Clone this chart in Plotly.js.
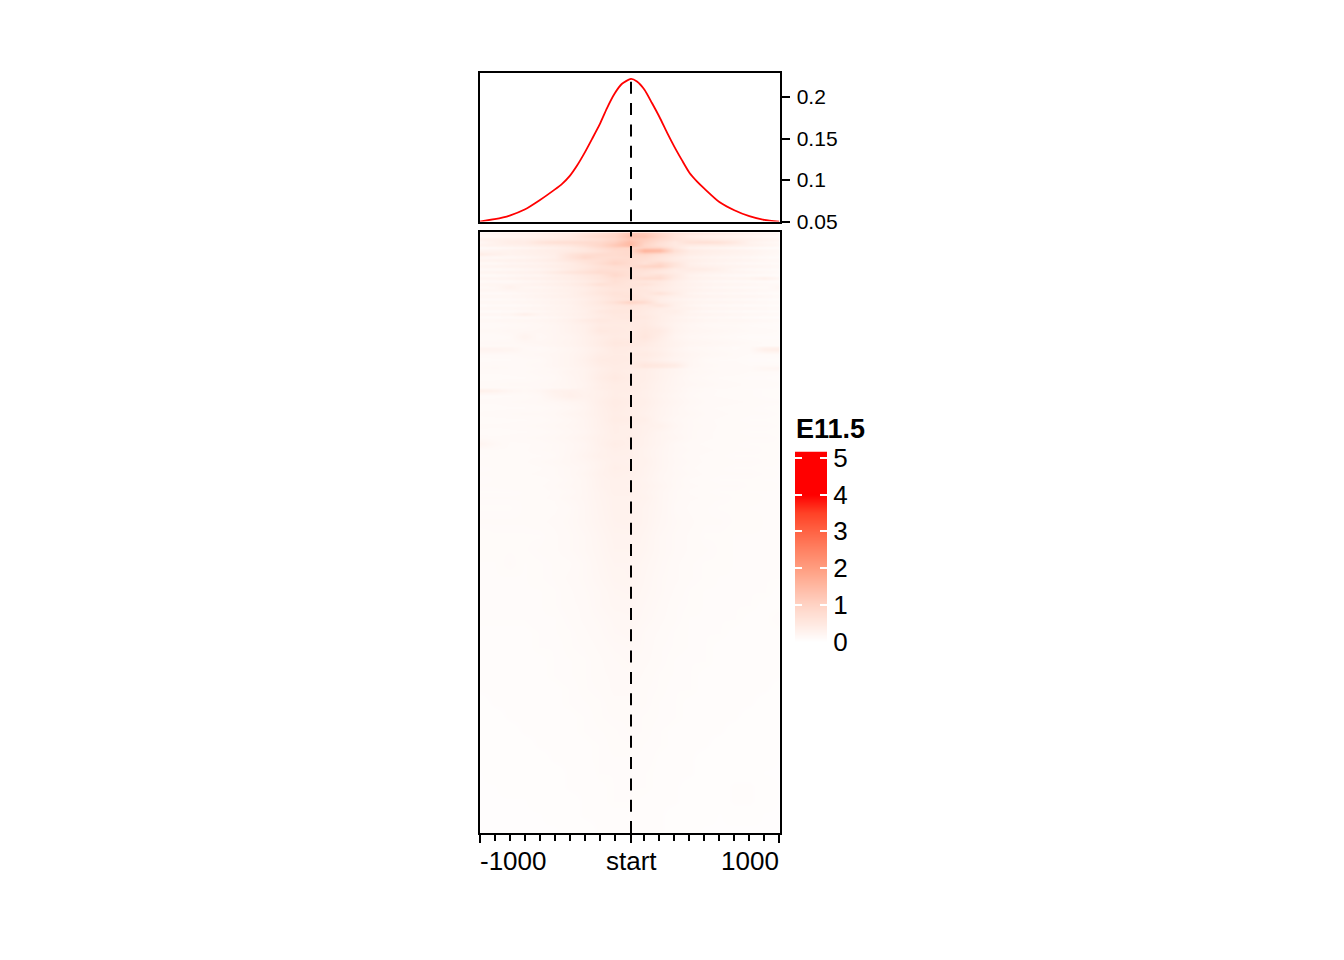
<!DOCTYPE html>
<html><head><meta charset="utf-8">
<script src="https://cdn.plot.ly/plotly-3.0.1.min.js"></script>
<style>html,body{margin:0;padding:0;background:#fff}</style></head>
<body><div id="chart" style="width:1344px;height:960px"></div>
<script>
const profileX=[-1000,-900,-800,-700,-600,-500,-450,-400,-350,-300,-250,-200,-150,-100,-50,10,50,100,150,200,250,300,350,400,450,500,600,700,800,900,1000];
const profileY=[.0501,.0529,.0573,.0645,.0757,.0885,.0955,.1048,.1176,.1328,.1496,.1668,.1868,.204,.216,.2219,.2187,.2088,.1928,.176,.1575,.14,.124,.1089,.0985,.0897,.0736,.0637,.0565,.052,.05];
const yTickVals=[.05,.1,.15,.2];
const yTickText=['0.05','0.1','0.15','0.2'];
const binX=[-1000,-900,-800,-700,-600,-500,-400,-300,-200,-100,0,100,200,300,400,500,600,700,800,900,1000];
const minorTicks=[-900,-800,-700,-600,-500,-400,-300,-200,-100,100,200,300,400,500,600,700,800,900];
const centerTick=10;
const xLabels=['-1000','start','1000'];
const rowRank=[1,3,6,9,12,15,17,21,24,27,30,33,36,39,42,45,48,51,54,57,60,63,66,69,72,75,78,81,84,87,90,96,102,108,114,115,120,126,132,137,138,144,150,157,158,162,168,174,180,186,192,198,204,210,216,222,228,234,240,246,252,258,264,270,284,298,312,326,340,354,368,382,396,410,424,438,452,466,480,494,508,522,536,550,564,578,592,604];
const heatRows=[
[.22,.24,.28,.3,.34,.4,.44,.58,.72,.9,1.25,1.2,.9,.65,.55,.48,.42,.36,.3,.24,.18],
[.14,.16,.2,.24,.3,.36,.46,.66,.82,.95,1.35,1.3,.95,.62,.42,.34,.3,.26,.2,.14,.1],
[.3,.32,.34,.36,.42,.46,.52,.6,.7,.9,1.2,1.1,.85,.65,.55,.48,.42,.38,.32,.26,.2],
[.18,.3,.4,.42,.6,.72,.75,.8,.85,1.05,1.45,1.0,.7,.5,.68,.72,.66,.5,.28,.2,.14],
[.28,.3,.32,.36,.42,.46,.55,.7,.9,1.2,1.5,.9,.65,.5,.44,.4,.4,.35,.3,.24,.18],
[.12,.14,.18,.22,.28,.34,.42,.56,.76,.95,.9,1.0,.95,.55,.3,.26,.22,.18,.14,.1,.08],
[.24,.26,.28,.32,.36,.4,.46,.52,.65,.8,.85,1.6,1.5,.7,.44,.38,.34,.3,.26,.2,.16],
[.42,.34,.28,.3,.34,.38,.6,.75,.8,.8,.85,.9,.7,.55,.4,.34,.3,.26,.24,.18,.14],
[.16,.16,.18,.22,.28,.36,.62,.85,.75,.75,.8,.75,.6,.44,.3,.26,.22,.2,.16,.12,.1],
[.26,.28,.3,.32,.36,.42,.54,.65,.7,.85,.8,.7,.6,.45,.38,.32,.28,.26,.24,.18,.16],
[.14,.14,.2,.22,.26,.32,.42,.58,.75,.95,.8,.65,.85,.6,.34,.26,.22,.18,.14,.12,.1],
[.24,.26,.28,.3,.32,.38,.44,.52,.65,.75,.75,.95,1.0,.6,.38,.32,.28,.26,.24,.2,.16],
[.14,.14,.16,.2,.24,.3,.42,.56,.7,.7,.7,.7,.6,.42,.44,.42,.32,.2,.14,.12,.1],
[.24,.26,.28,.3,.34,.46,.58,.68,.8,.8,.7,.6,.5,.42,.36,.3,.26,.24,.22,.18,.14],
[.12,.12,.16,.2,.22,.3,.38,.5,.6,.85,.7,.6,.7,.48,.28,.22,.18,.14,.12,.1,.08],
[.24,.24,.26,.3,.32,.36,.4,.48,.6,.7,.65,.8,.8,.46,.32,.28,.26,.24,.26,.34,.2],
[.12,.14,.14,.18,.22,.28,.34,.42,.52,.7,.6,.55,.5,.36,.26,.2,.16,.14,.12,.1,.08],
[.22,.22,.24,.26,.3,.34,.4,.5,.7,.65,.6,.65,.48,.36,.3,.26,.24,.22,.2,.16,.14],
[.14,.18,.3,.2,.2,.26,.32,.4,.5,.6,.6,.5,.44,.34,.26,.2,.16,.14,.12,.12,.2],
[.22,.2,.22,.24,.26,.3,.34,.4,.52,.58,.58,.55,.44,.36,.3,.26,.24,.22,.2,.16,.14],
[.12,.12,.14,.18,.22,.26,.32,.44,.55,.65,.6,.52,.65,.42,.24,.18,.16,.14,.12,.1,.08],
[.2,.2,.2,.22,.26,.3,.34,.4,.48,.6,.65,.52,.42,.34,.3,.26,.24,.22,.22,.18,.14],
[.12,.12,.14,.16,.2,.24,.28,.36,.46,.56,.58,.6,.38,.28,.22,.18,.16,.14,.12,.1,.08],
[.2,.2,.2,.22,.24,.28,.32,.4,.52,.7,1.0,.8,.42,.34,.28,.24,.24,.22,.2,.16,.14],
[.1,.12,.12,.14,.18,.24,.28,.38,.46,.54,.58,.5,.6,.34,.22,.16,.14,.12,.1,.1,.08],
[.2,.2,.2,.22,.24,.26,.3,.36,.42,.52,.54,.48,.4,.32,.3,.24,.22,.2,.2,.16,.14],
[.1,.1,.12,.14,.18,.24,.28,.34,.5,.56,.56,.46,.38,.38,.22,.16,.14,.12,.1,.1,.08],
[.2,.2,.22,.36,.24,.26,.3,.36,.44,.52,.5,.46,.38,.32,.26,.24,.22,.2,.18,.16,.14],
[.1,.1,.12,.12,.16,.2,.26,.32,.44,.5,.54,.5,.38,.28,.2,.16,.14,.12,.1,.08,.08],
[.18,.18,.2,.2,.22,.26,.32,.44,.52,.48,.48,.46,.38,.3,.26,.22,.2,.2,.18,.16,.14],
[.12,.12,.14,.16,.18,.22,.28,.34,.44,.46,.46,.48,.36,.26,.2,.16,.14,.14,.12,.1,.1],
[.16,.16,.18,.18,.2,.22,.28,.34,.5,.48,.46,.52,.46,.28,.22,.2,.18,.16,.14,.14,.12],
[.12,.12,.14,.26,.16,.22,.24,.32,.4,.46,.44,.56,.4,.24,.18,.16,.14,.12,.1,.1,.1],
[.15,.16,.16,.18,.2,.22,.26,.32,.42,.52,.5,.46,.36,.28,.22,.2,.18,.16,.14,.12,.12],
[.12,.12,.12,.14,.16,.2,.24,.3,.4,.48,.46,.42,.36,.28,.18,.16,.14,.12,.12,.1,.1],
[.26,.26,.24,.16,.14,.18,.22,.28,.36,.46,.44,.4,.34,.24,.18,.16,.14,.12,.14,.36,.4],
[.14,.14,.14,.16,.18,.2,.24,.3,.4,.44,.44,.46,.38,.28,.22,.18,.16,.14,.12,.12,.12],
[.11,.12,.12,.14,.14,.2,.24,.32,.44,.46,.44,.4,.32,.24,.2,.14,.12,.12,.1,.1,.09],
[.14,.14,.14,.14,.16,.2,.24,.3,.4,.44,.42,.56,.52,.44,.2,.16,.14,.14,.12,.12,.12],
[.14,.16,.14,.12,.14,.16,.2,.26,.34,.42,.42,.4,.32,.22,.16,.14,.12,.12,.14,.26,.3],
[.13,.13,.13,.14,.16,.18,.24,.28,.38,.44,.4,.38,.3,.24,.18,.16,.14,.14,.12,.12,.11],
[.11,.11,.12,.12,.14,.16,.22,.28,.4,.48,.42,.38,.3,.22,.16,.14,.12,.11,.1,.1,.09],
[.14,.14,.15,.15,.16,.18,.22,.26,.36,.42,.4,.36,.28,.22,.18,.16,.14,.13,.12,.12,.11],
[.12,.12,.12,.13,.14,.16,.2,.28,.38,.42,.42,.36,.28,.2,.14,.12,.12,.11,.1,.09,.09],
[.34,.3,.2,.16,.2,.3,.32,.28,.34,.4,.4,.34,.28,.22,.16,.14,.12,.11,.11,.1,.1],
[.12,.12,.12,.13,.16,.26,.34,.3,.34,.4,.38,.34,.26,.2,.15,.13,.12,.11,.11,.1,.09],
[.13,.13,.14,.15,.16,.18,.22,.26,.36,.44,.4,.36,.28,.22,.17,.14,.14,.13,.12,.11,.11],
[.11,.11,.12,.12,.13,.15,.18,.24,.34,.42,.38,.34,.26,.2,.15,.13,.12,.11,.11,.1,.09],
[.13,.14,.14,.15,.15,.17,.22,.26,.34,.4,.38,.32,.26,.2,.17,.14,.13,.12,.11,.11,.1],
[.11,.11,.12,.12,.13,.15,.18,.24,.32,.42,.4,.36,.24,.18,.15,.13,.12,.11,.1,.1,.09],
[.13,.13,.13,.14,.15,.17,.2,.24,.32,.38,.36,.32,.3,.2,.15,.14,.12,.12,.11,.11,.1],
[.12,.11,.12,.12,.13,.15,.18,.22,.3,.38,.36,.32,.24,.18,.15,.13,.12,.11,.1,.1,.09],
[.13,.13,.13,.14,.15,.17,.2,.25,.32,.36,.38,.3,.24,.2,.15,.13,.12,.12,.11,.11,.1],
[.24,.16,.12,.12,.13,.15,.18,.22,.32,.4,.36,.3,.24,.16,.13,.12,.11,.11,.1,.1,.1],
[.12,.12,.12,.12,.14,.15,.18,.23,.3,.36,.34,.28,.22,.17,.14,.13,.12,.11,.11,.1,.09],
[.1,.11,.11,.12,.12,.14,.19,.25,.32,.34,.34,.28,.22,.16,.13,.12,.11,.1,.1,.1,.09],
[.12,.12,.12,.12,.14,.16,.19,.22,.28,.34,.32,.3,.22,.17,.14,.12,.12,.11,.11,.1,.09],
[.1,.11,.11,.11,.12,.14,.17,.2,.28,.36,.34,.28,.22,.16,.13,.11,.11,.1,.1,.09,.09],
[.11,.11,.12,.12,.13,.14,.17,.22,.3,.34,.32,.28,.2,.17,.14,.12,.11,.11,.11,.1,.09],
[.1,.11,.11,.11,.11,.13,.16,.2,.28,.32,.32,.26,.2,.16,.12,.11,.1,.1,.1,.09,.09],
[.11,.11,.12,.12,.12,.14,.17,.2,.28,.32,.3,.28,.22,.16,.13,.12,.11,.11,.1,.1,.09],
[.1,.1,.1,.11,.11,.13,.15,.2,.26,.32,.32,.26,.2,.15,.12,.11,.1,.1,.09,.09,.09],
[.11,.11,.11,.11,.12,.13,.17,.2,.26,.3,.3,.28,.2,.15,.13,.12,.11,.1,.1,.09,.09],
[.1,.1,.1,.11,.11,.12,.14,.19,.25,.3,.3,.25,.2,.14,.12,.11,.1,.1,.09,.09,.09],
[.11,.11,.11,.11,.12,.13,.15,.19,.24,.29,.3,.25,.19,.15,.13,.11,.11,.1,.1,.09,.08],
[.09,.1,.1,.1,.1,.12,.14,.17,.22,.27,.27,.23,.17,.14,.12,.1,.1,.09,.09,.09,.08],
[.1,.1,.1,.1,.11,.12,.14,.17,.21,.26,.26,.22,.17,.14,.12,.11,.1,.09,.09,.09,.08],
[.09,.09,.11,.09,.1,.11,.12,.15,.2,.24,.24,.2,.16,.13,.11,.1,.1,.09,.09,.08,.08],
[.09,.09,.09,.09,.1,.11,.13,.15,.19,.23,.24,.19,.15,.13,.11,.1,.09,.09,.08,.08,.08],
[.08,.08,.09,.09,.09,.1,.12,.14,.17,.21,.22,.18,.15,.12,.1,.09,.09,.08,.08,.08,.07],
[.08,.08,.08,.08,.09,.1,.12,.13,.17,.2,.2,.17,.14,.11,.1,.09,.08,.08,.08,.07,.07],
[.08,.08,.08,.08,.09,.09,.11,.13,.15,.18,.19,.16,.13,.11,.09,.09,.08,.08,.07,.07,.09],
[.07,.07,.07,.07,.08,.09,.1,.12,.14,.17,.18,.14,.12,.1,.09,.08,.08,.07,.07,.07,.07],
[.07,.07,.07,.07,.08,.08,.1,.11,.13,.15,.16,.14,.11,.1,.09,.08,.07,.07,.07,.06,.06],
[.06,.07,.07,.07,.07,.08,.09,.1,.12,.14,.15,.13,.11,.09,.08,.08,.07,.07,.06,.06,.06],
[.06,.06,.06,.07,.07,.08,.09,.1,.12,.13,.14,.12,.1,.09,.08,.07,.07,.06,.06,.06,.06],
[.06,.06,.06,.06,.07,.07,.08,.1,.11,.13,.13,.11,.1,.08,.08,.07,.06,.06,.06,.06,.05],
[.05,.06,.06,.06,.06,.07,.08,.09,.1,.12,.12,.11,.09,.08,.07,.07,.06,.06,.06,.05,.05],
[.05,.05,.06,.06,.06,.07,.07,.08,.1,.11,.11,.1,.09,.08,.07,.06,.06,.06,.05,.05,.05],
[.05,.05,.05,.06,.06,.06,.07,.08,.09,.1,.11,.1,.08,.07,.07,.06,.06,.05,.05,.05,.05],
[.05,.05,.05,.05,.06,.06,.06,.07,.08,.1,.1,.09,.08,.07,.06,.06,.05,.05,.05,.05,.05],
[.05,.05,.05,.05,.05,.06,.06,.07,.08,.09,.09,.09,.07,.06,.06,.05,.05,.05,.05,.05,.04],
[.04,.05,.05,.05,.05,.05,.06,.06,.08,.08,.09,.08,.07,.06,.06,.05,.05,.05,.05,.04,.04],
[.04,.04,.05,.05,.05,.05,.06,.06,.07,.08,.08,.08,.07,.06,.05,.05,.05,.06,.06,.05,.04],
[.04,.04,.04,.04,.05,.05,.05,.06,.07,.08,.08,.07,.06,.06,.05,.05,.05,.06,.06,.05,.04],
[.04,.04,.04,.04,.04,.05,.05,.06,.06,.07,.07,.07,.06,.05,.05,.05,.04,.05,.05,.04,.04],
[.04,.04,.04,.04,.04,.04,.05,.05,.06,.06,.07,.06,.06,.05,.05,.04,.04,.04,.04,.04,.04]
];
const colorStops=[[0,'#ffffff'],[.125,'#ffe9e1'],[.25,'#ffd3c4'],[.375,'#ffb9a3'],[.5,'#ff9e81'],[.625,'#ff8263'],[.75,'#ff6445'],[.875,'#ff4126'],[1,'#ff0000']];
const legendLevels=[0,.25,.5,.75,1,1.5,2,2.5,3,3.5,4,4.5,5,5.17];
const legendTicks=[0,1,2,3,4,5];
const legendTitle='E11.5';

const W=1344,H=960;
const px=(a,b)=>[a/W,b/W], py=(top,bot)=>[1-bot/H,1-top/H];
const textFont='"Liberation Sans", Arial, sans-serif';
const line={showline:true,linecolor:'#000',linewidth:2,mirror:true,showgrid:false,zeroline:false};

const data=[
 {type:'scatter',mode:'lines',x:profileX,y:profileY,xaxis:'x',yaxis:'y',line:{color:'#ff0000',width:1.8,shape:'spline',smoothing:.6},hoverinfo:'skip'},
 {type:'heatmap',x:binX,y:rowRank,z:heatRows,xaxis:'x2',yaxis:'y2',colorscale:colorStops,zmin:0,zmax:4,zsmooth:'best',showscale:false,hoverinfo:'skip'},
 {type:'heatmap',x:[0,1],y:legendLevels,z:legendLevels.map(v=>[v,v]),xaxis:'x3',yaxis:'y3',colorscale:colorStops,zmin:0,zmax:4,zsmooth:'best',showscale:false,hoverinfo:'skip'}
];
const layout={
 width:W,height:H,margin:{l:0,r:0,t:0,b:0,pad:0},paper_bgcolor:'#fff',plot_bgcolor:'#fff',showlegend:false,
 font:{family:textFont,color:'#000'},
 xaxis:{...line,domain:px(479.5,779.5),range:[-1001.5,1001.5],showticklabels:false,ticks:'',anchor:'y'},
 yaxis:{...line,domain:py(72.5,221.6),range:[.05,.2296],side:'right',anchor:'x',ticks:'outside',ticklen:8,tickwidth:2,tickcolor:'#000',tickvals:yTickVals,ticktext:yTickText,tickfont:{size:21,family:textFont,color:'#000'},ticklabelstandoff:3},
 xaxis2:{...line,domain:px(479.5,779.5),range:[-1001.5,1001.5],anchor:'y2',ticks:'outside',ticklen:8,tickwidth:2,tickcolor:'#000',tickvals:[-1000,centerTick,1000],showticklabels:false,
   minor:{tickmode:'array',tickvals:minorTicks,ticks:'outside',ticklen:6,tickwidth:2,tickcolor:'#000',showgrid:false}},
 yaxis2:{...line,domain:py(231.5,833),range:[604,0],anchor:'x2',ticks:'',showticklabels:false},
 xaxis3:{domain:px(795,827),range:[0,1],anchor:'y3',showline:false,showgrid:false,zeroline:false,ticks:'',showticklabels:false},
 yaxis3:{domain:py(451.5,641.5),range:[0,5.17],anchor:'x3',side:'right',showline:true,linecolor:'rgba(255,255,255,0)',linewidth:1,mirror:'ticks',showgrid:false,zeroline:false,ticks:'inside',ticklen:7,tickwidth:2,tickcolor:'#fff',tickvals:legendTicks,tickfont:{size:26,family:textFont,color:'#000'},ticklabelstandoff:0},
 shapes:[
  {type:'line',xref:'x',yref:'y',x0:centerTick,x1:centerTick,y0:.05,y1:.2296,line:{color:'#000',width:2,dash:'12px,9.3px'}},
  {type:'line',xref:'x2',yref:'y2',x0:centerTick,x1:centerTick,y0:604,y1:0,line:{color:'#000',width:2,dash:'12px,9.3px'}}
 ],
 annotations:[
  {xref:'x2',yref:'paper',x:-1000,xshift:-2,y:1-861/H,xanchor:'left',yanchor:'middle',text:xLabels[0],showarrow:false,font:{size:26,family:textFont,color:'#000'}},
  {xref:'x2',yref:'paper',x:centerTick,y:1-861/H,xanchor:'center',yanchor:'middle',text:xLabels[1],showarrow:false,font:{size:26,family:textFont,color:'#000'}},
  {xref:'x2',yref:'paper',x:1000,xshift:2,y:1-861/H,xanchor:'right',yanchor:'middle',text:xLabels[2],showarrow:false,font:{size:26,family:textFont,color:'#000'}},
  {xref:'paper',yref:'paper',x:794/W,y:1-429/H,xanchor:'left',yanchor:'middle',text:'<b>'+legendTitle+'</b>',showarrow:false,font:{size:27,family:textFont,color:'#000'}}
 ]
};
Plotly.newPlot('chart',data,layout,{displayModeBar:false,staticPlot:true});
</script></body></html>
